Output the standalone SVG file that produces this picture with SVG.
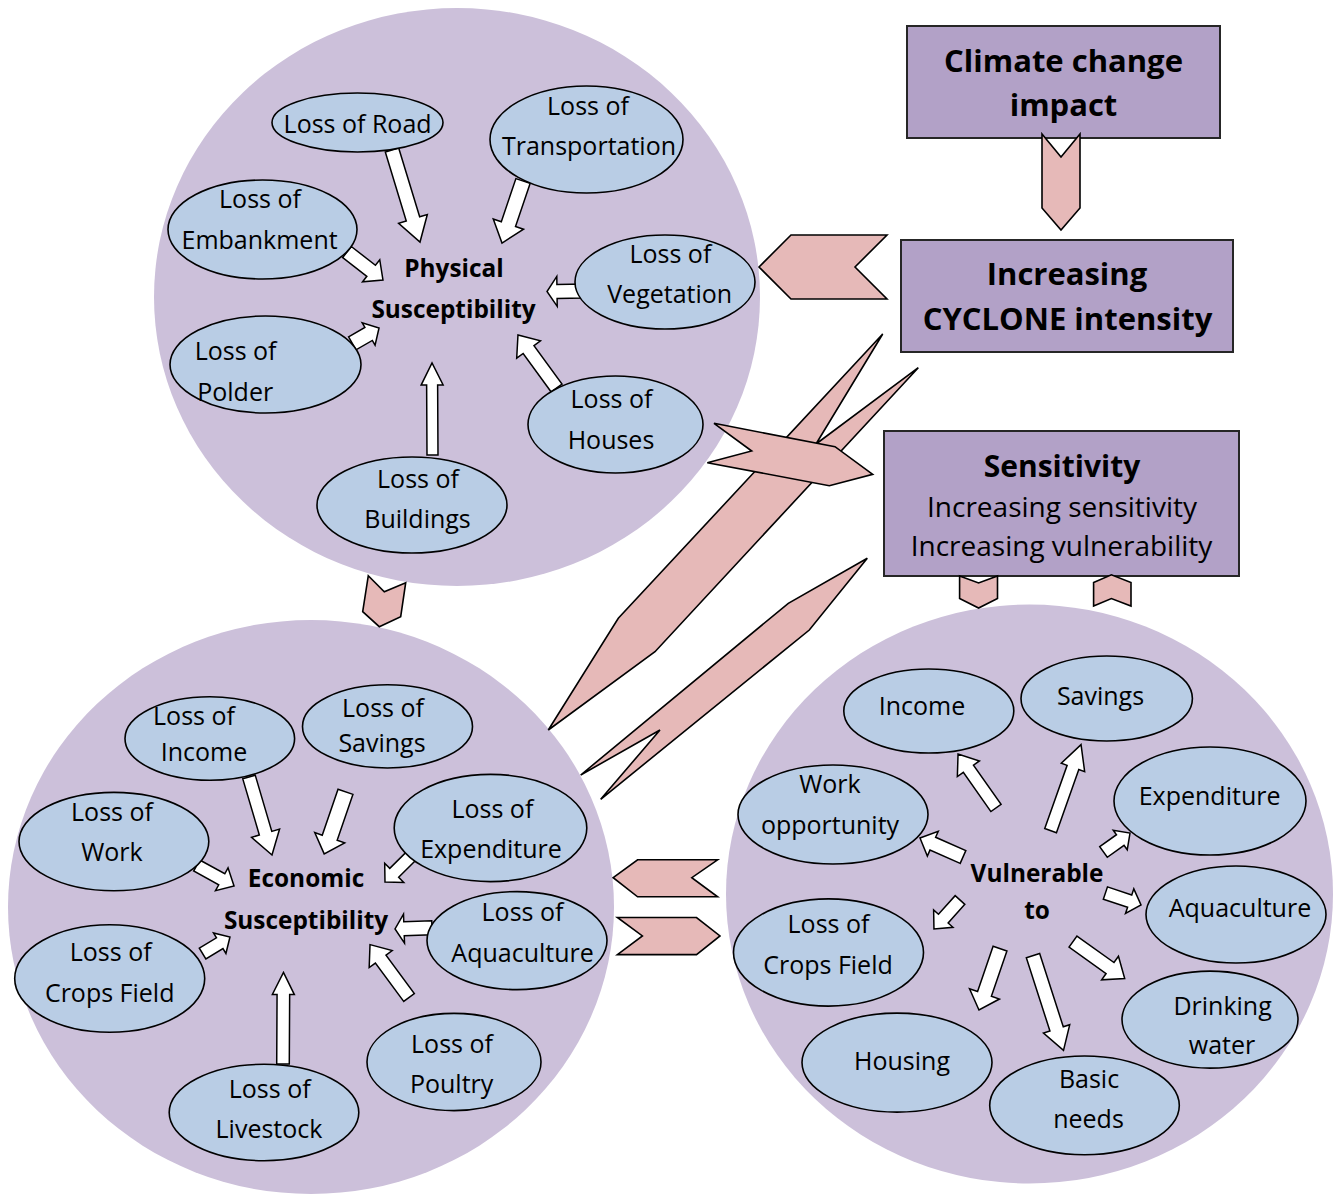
<svg xmlns="http://www.w3.org/2000/svg" width="1338" height="1195" viewBox="0 0 1338 1195">
<style>
.bg{fill:#CCC0DA}
.el{fill:#B9CDE5;stroke:#000;stroke-width:1.6}
.box{fill:#B2A1C7;stroke:#262626;stroke-width:2}
.pk{fill:#E6B9B8;stroke:#000;stroke-width:1.6;stroke-linejoin:miter}
.ar{fill:#fff;stroke:#000;stroke-width:1.5;stroke-linejoin:miter}
text{font-family:"Open Sans","Liberation Sans",sans-serif;text-anchor:middle;fill:#000}
.t{font-size:25px}
.c{font-size:24.4px;font-weight:bold}
.h1{font-size:31px;font-weight:bold}
.h2{font-size:28px}
</style>
<rect width="1338" height="1195" fill="#fff"/>

<!-- container circles -->
<g id="physical">
<ellipse class="bg" cx="457" cy="297" rx="303" ry="289"/>
<text class="c" x="454" y="277">Physical</text>
<text class="c" x="453.5" y="318">Susceptibility</text>
</g>
<g id="economic">
<ellipse class="bg" cx="311" cy="907" rx="303" ry="287"/>
<text class="c" x="306" y="887">Economic</text>
<text class="c" x="306" y="929">Susceptibility</text>
</g>
<g id="vulnerable">
<ellipse class="bg" cx="1029.5" cy="894" rx="303.5" ry="289.5"/>
<text class="c" x="1037" y="882">Vulnerable</text>
<text class="c" x="1037" y="919">to</text>
</g>

<!-- boxes -->
<g id="climate">
<rect class="box" x="907" y="26" width="313" height="112"/>
<text class="h1" x="1063.5" y="72">Climate change</text>
<text class="h1" x="1063.5" y="116">impact</text>
</g>
<g id="cyclone">
<rect class="box" x="901" y="240" width="332" height="112"/>
<text class="h1" x="1067" y="285">Increasing</text>
<text class="h1" x="1067.5" y="330">CYCLONE intensity</text>
</g>
<g id="sensitivity">
<rect class="box" x="884" y="431" width="355" height="145"/>
<text class="h1" x="1062" y="477" style="font-size:30px">Sensitivity</text>
<text class="h2" x="1062" y="517">Increasing sensitivity</text>
<text class="h2" x="1061.5" y="556">Increasing vulnerability</text>
</g>

<!-- connectors -->
<g id="connectors">
<polygon class="pk" points="882.7,334 816,444 918.3,367.7 655,651.7 548.3,730 618.3,618.3"/>
<polygon class="pk" points="714,423.3 835,446.7 872.7,474.3 829.3,485.7 707.3,462.7 751.7,451"/>
<polygon class="pk" points="867.3,558.3 788.3,603.3 580.7,775 660,730 600.7,799.3 809.3,630"/>
<polygon class="pk" points="759,267 791,235 887,235 855,267 887,299 791,299"/>
<polygon class="pk" points="1042,134 1061,157 1080,134 1080,208 1061,230 1042,208"/>
<polygon class="pk" points="959.6,576 978.6,583 997.5,576 997.5,598.5 978.6,608 959.6,598.5"/>
<polygon class="pk" points="1093.6,582.5 1111.4,574.8 1131,582.5 1131,606 1111.4,598.5 1093.6,606"/>
<polygon class="pk" points="368.3,575.7 384.3,591.7 405.7,582.7 400.7,616.7 379.3,626.7 362.7,611.7"/>
<polygon class="pk" points="613.2,877.7 637.6,859.8 717.6,859.8 691.8,877.7 717.6,896.8 637.6,896.8"/>
<polygon class="pk" points="617.4,917.5 696.5,917.5 720,935.9 696.5,954.6 617.4,954.6 642.4,935.9"/>

<!-- physical arrows -->
<polygon class="ar" transform="translate(392,150) rotate(73.07)" points="0,-7 72,-7 72,-15 96.2,0 72,15 72,7 0,7"/>
<polygon class="ar" transform="translate(523,181) rotate(108.7)" points="0,-7.5 45.5,-7.5 45.5,-16 65.5,0 45.5,16 45.5,7.5 0,7.5"/>
<polygon class="ar" transform="translate(347,252) rotate(37.9)" points="0,-7 30.6,-7 30.6,-14 45.6,0 30.6,14 30.6,7 0,7"/>
<polygon class="ar" transform="translate(584,291) rotate(179.2)" points="0,-7 27,-7 27,-15 37,0 27,15 27,7 0,7"/>
<polygon class="ar" transform="translate(352.3,343.3) rotate(-29.8)" points="0,-7.5 18.8,-7.5 18.8,-13 30.8,0 18.8,13 18.8,7.5 0,7.5"/>
<polygon class="ar" transform="translate(432.5,455) rotate(-90.3)" points="0,-5.5 70,-5.5 70,-11 92,0 70,11 70,5.5 0,5.5"/>
<polygon class="ar" transform="translate(556.6,388) rotate(-126.07)" points="0,-6.7 47.6,-6.7 47.6,-14.7 65.6,0 47.6,14.7 47.6,6.7 0,6.7"/>

<!-- economic arrows -->
<polygon class="ar" transform="translate(249,777) rotate(73.57)" points="0,-6.5 58.6,-6.5 58.6,-14.6 81.3,0 58.6,14.6 58.6,6.5 0,6.5"/>
<polygon class="ar" transform="translate(345.5,791.8) rotate(108.96)" points="0,-7.9 48.6,-7.9 48.6,-15.8 65.6,0 48.6,15.8 48.6,7.9 0,7.9"/>
<polygon class="ar" transform="translate(196.7,865.5) rotate(28.8)" points="0,-6.3 28.6,-6.3 28.6,-13 42.6,0 28.6,13 28.6,6.3 0,6.3"/>
<polygon class="ar" transform="translate(411.6,855.6) rotate(135.2)" points="0,-6.3 24.5,-6.3 24.5,-13.5 37.5,0 24.5,13.5 24.5,6.3 0,6.3"/>
<polygon class="ar" transform="translate(432,927.7) rotate(178)" points="0,-7 28,-7 28,-14.5 37,0 28,14.5 28,7 0,7"/>
<polygon class="ar" transform="translate(202.6,953.6) rotate(-31.2)" points="0,-6.3 20,-6.3 20,-12 32,0 20,12 20,6.3 0,6.3"/>
<polygon class="ar" transform="translate(283,1064) rotate(-89.7)" points="0,-6.3 69.5,-6.3 69.5,-11 91.5,0 69.5,11 69.5,6.3 0,6.3"/>
<polygon class="ar" transform="translate(409,997.5) rotate(-126.4)" points="0,-6.6 47.7,-6.6 47.7,-14.3 65.7,0 47.7,14.3 47.7,6.6 0,6.6"/>

<!-- vulnerability arrows -->
<polygon class="ar" transform="translate(996,808) rotate(-125.1)" points="0,-6.2 48,-6.2 48,-13.5 66,0 48,13.5 48,6.2 0,6.2"/>
<polygon class="ar" transform="translate(1050.6,830.6) rotate(-70.5)" points="0,-6.2 67,-6.2 67,-12.4 91.2,0 67,12.4 67,6.2 0,6.2"/>
<polygon class="ar" transform="translate(1103.5,852) rotate(-35.6)" points="0,-6.5 20.6,-6.5 20.6,-12 32.6,0 20.6,12 20.6,6.5 0,6.5"/>
<polygon class="ar" transform="translate(963,857) rotate(-156.2)" points="0,-7 33,-7 33,-13.5 47,0 33,13.5 33,7 0,7"/>
<polygon class="ar" transform="translate(1105.4,893) rotate(18.6)" points="0,-6.5 25.6,-6.5 25.6,-13 37.6,0 25.6,13 25.6,6.5 0,6.5"/>
<polygon class="ar" transform="translate(960,900) rotate(131.9)" points="0,-6.5 25,-6.5 25,-13 39,0 25,13 25,6.5 0,6.5"/>
<polygon class="ar" transform="translate(1000,948.6) rotate(108.9)" points="0,-7.3 47.9,-7.3 47.9,-15.8 64.9,0 47.9,15.8 47.9,7.3 0,7.3"/>
<polygon class="ar" transform="translate(1033,955.6) rotate(72.15)" points="0,-7 77,-7 77,-13.8 99.5,0 77,13.8 77,7 0,7"/>
<polygon class="ar" transform="translate(1073,941.6) rotate(35.5)" points="0,-6.8 45.5,-6.8 45.5,-14.5 63.5,0 45.5,14.5 45.5,6.8 0,6.8"/>
</g>

<!-- physical nodes -->
<g id="road"><ellipse class="el" cx="357.5" cy="122.5" rx="85.5" ry="29.5"/><text class="t" x="357.6" y="133">Loss of Road</text></g>
<g id="transportation"><ellipse class="el" cx="586.5" cy="139.5" rx="96.5" ry="53.5"/><text class="t" x="588" y="115">Loss of</text><text class="t" x="589" y="155">Transportation</text></g>
<g id="embankment"><ellipse class="el" cx="262.5" cy="229.5" rx="94.5" ry="49.5"/><text class="t" x="260" y="208">Loss of</text><text class="t" x="259.6" y="249">Embankment</text></g>
<g id="vegetation"><ellipse class="el" cx="665" cy="282" rx="90" ry="47"/><text class="t" x="670.4" y="263">Loss of</text><text class="t" x="669.7" y="303">Vegetation</text></g>
<g id="polder"><ellipse class="el" cx="265.5" cy="364.5" rx="95.5" ry="48.5"/><text class="t" x="235.6" y="360">Loss of</text><text class="t" x="235.2" y="401">Polder</text></g>
<g id="houses"><ellipse class="el" cx="615.5" cy="424.5" rx="87.5" ry="48.5"/><text class="t" x="611.5" y="408">Loss of</text><text class="t" x="611" y="449">Houses</text></g>
<g id="buildings"><ellipse class="el" cx="412" cy="505" rx="95" ry="48"/><text class="t" x="418" y="488">Loss of</text><text class="t" x="417.5" y="528">Buildings</text></g>

<!-- economic nodes -->
<g id="e-income"><ellipse class="el" cx="209.8" cy="738.5" rx="84.8" ry="41.8"/><text class="t" x="194" y="725">Loss of</text><text class="t" x="204" y="761">Income</text></g>
<g id="e-savings"><ellipse class="el" cx="387.5" cy="726.4" rx="85" ry="41.6"/><text class="t" x="383" y="717">Loss of</text><text class="t" x="382" y="752">Savings</text></g>
<g id="e-work"><ellipse class="el" cx="113.9" cy="841.6" rx="94.9" ry="49.2"/><text class="t" x="112" y="821">Loss of</text><text class="t" x="112" y="861">Work</text></g>
<g id="e-expenditure"><ellipse class="el" cx="490.5" cy="828" rx="96.3" ry="53.6"/><text class="t" x="492.4" y="818">Loss of</text><text class="t" x="491" y="858">Expenditure</text></g>
<g id="e-aquaculture"><ellipse class="el" cx="517" cy="940.6" rx="90" ry="49"/><text class="t" x="522.5" y="921">Loss of</text><text class="t" x="522.6" y="962">Aquaculture</text></g>
<g id="e-crops"><ellipse class="el" cx="109.7" cy="978.5" rx="95" ry="53.8"/><text class="t" x="110.7" y="961">Loss of</text><text class="t" x="109.7" y="1002">Crops Field</text></g>
<g id="e-poultry"><ellipse class="el" cx="454" cy="1062" rx="87" ry="48.6"/><text class="t" x="452" y="1053">Loss of</text><text class="t" x="451.6" y="1093">Poultry</text></g>
<g id="e-livestock"><ellipse class="el" cx="264" cy="1112.5" rx="94.8" ry="48.2"/><text class="t" x="269.7" y="1098">Loss of</text><text class="t" x="269" y="1138">Livestock</text></g>

<!-- vulnerability nodes -->
<g id="v-income"><ellipse class="el" cx="928.8" cy="711" rx="85" ry="42"/><text class="t" x="922" y="715">Income</text></g>
<g id="v-savings"><ellipse class="el" cx="1106.7" cy="698.5" rx="85.7" ry="42.5"/><text class="t" x="1100.5" y="705">Savings</text></g>
<g id="v-expenditure"><ellipse class="el" cx="1210" cy="801" rx="96" ry="54"/><text class="t" x="1209.6" y="805">Expenditure</text></g>
<g id="v-work"><ellipse class="el" cx="833" cy="814.5" rx="95" ry="49.5"/><text class="t" x="830" y="793">Work</text><text class="t" x="830" y="834">opportunity</text></g>
<g id="v-aquaculture"><ellipse class="el" cx="1236" cy="914.5" rx="90" ry="48.5"/><text class="t" x="1240" y="917">Aquaculture</text></g>
<g id="v-crops"><ellipse class="el" cx="828.5" cy="952.5" rx="95" ry="53.6"/><text class="t" x="828.5" y="933">Loss of</text><text class="t" x="828" y="974">Crops Field</text></g>
<g id="v-drinking"><ellipse class="el" cx="1210" cy="1019.6" rx="88" ry="48.5"/><text class="t" x="1222.6" y="1015">Drinking</text><text class="t" x="1222" y="1054">water</text></g>
<g id="v-housing"><ellipse class="el" cx="897" cy="1062.6" rx="95" ry="49.5"/><text class="t" x="902" y="1070">Housing</text></g>
<g id="v-basic"><ellipse class="el" cx="1084.5" cy="1105.4" rx="94.8" ry="49.4"/><text class="t" x="1089" y="1088">Basic</text><text class="t" x="1088.5" y="1128">needs</text></g>
</svg>
